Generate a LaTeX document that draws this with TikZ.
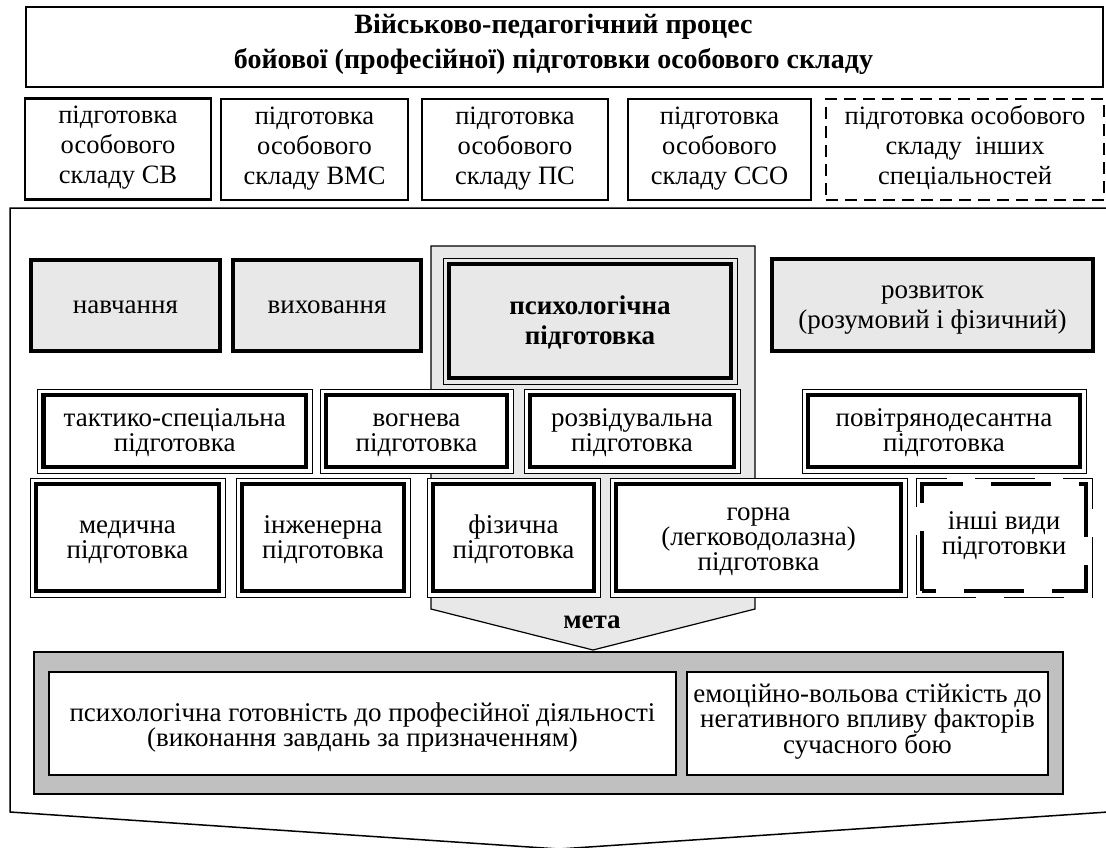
\documentclass[tikz,border=0pt]{standalone}
\usepackage{fontspec}
\setmainfont{Liberation Serif}
\definecolor{lg}{HTML}{E8E8E8}
\definecolor{mg}{HTML}{C0C0C0}
\newcommand\hA{\rule{0pt}{24pt}}\newcommand\dA{\rule[-8pt]{0pt}{8pt}}
\newcommand\hB{\rule{0pt}{20pt}}\newcommand\dB{\rule[-11pt]{0pt}{11pt}}
\newcommand\hC{\rule{0pt}{20pt}}\newcommand\dC{\rule[-12pt]{0pt}{12pt}}
\newcommand\hG{\rule{0pt}{29pt}}\newcommand\dG{\rule[-8pt]{0pt}{8pt}}
\tikzset{
  base/.style={inner sep=0pt, align=center, font=\fontsize{27}{25}\selectfont},
  titlebox/.style={base, draw, line width=1.8pt, font=\fontsize{28}{35}\selectfont\bfseries},
  toprow/.style={base, draw, line width=1.6pt, fill=white, font=\fontsize{26.5}{30}\selectfont},
  topdash/.style={toprow, dash pattern=on 12pt off 7pt},
  graybox/.style={base, draw, fill=lg, line width=3.5pt},
  dbl/.style={base, draw, line width=1pt, fill=white,
    path picture={\draw[line width=4.5pt]
      ([shift={(6pt,6pt)}]path picture bounding box.south west) rectangle
      ([shift={(-6pt,-6pt)}]path picture bounding box.north east);}},
  dbldash/.style={base, draw, line width=1pt, fill=white, dash pattern=on 60pt off 28pt,
    path picture={\draw[line width=4.5pt, dash pattern=on 60pt off 28pt]
      ([shift={(6pt,6pt)}]path picture bounding box.south west) rectangle
      ([shift={(-6pt,-6pt)}]path picture bounding box.north east);}},
  goalbox/.style={base, draw, line width=1.5pt, fill=white},
}
\begin{document}
\begin{tikzpicture}[x=1pt, y=-1pt]
\useasboundingbox (0,0) rectangle (1106,847);
% title
\node[titlebox, minimum width=1077pt, minimum height=80pt] (title) at (564.5,47)
  {\hC Військово-педагогічний процес\hspace*{22pt}\\бойової (професійної) підготовки особового складу\dC\hspace*{22pt}};
% top row
\node[toprow, line width=2.2pt, minimum width=186pt, minimum height=101pt] (t1) at (118,149)
  {\hB підготовка\\особового\\складу СВ\dB};
\node[toprow, minimum width=187pt, minimum height=101pt] (t2) at (314.5,149.5)
  {\hB підготовка\\особового\\складу ВМС\dB};
\node[toprow, minimum width=186pt, minimum height=101pt] (t3) at (515,149.5)
  {\hB підготовка\\особового\\складу ПС\dB};
\node[toprow, minimum width=183pt, minimum height=101pt] (t4) at (719.5,149.5)
  {\hB підготовка\\особового\\складу ССО\dB};
\node[topdash, minimum width=278pt, minimum height=101pt] (t5) at (965,149.5)
  {\hB підготовка особового\\складу \ інших\\спеціальностей\dB};
% outer frame (arrow shape)
\coordinate (f1) at (10,208);
\coordinate (f2) at (1108,208);
\coordinate (f3) at (1108,812);
\coordinate (f4) at (559,849);
\coordinate (f5) at (10,812);
\draw[line width=1.5pt, line join=miter] (f1) -- (f2) -- (f3) -- (f4) -- (f5) -- cycle;
% gray column (arrow)
\coordinate (c1) at (431,246);
\coordinate (c2) at (755,246);
\coordinate (c3) at (755,609);
\coordinate (c4) at (593,650);
\coordinate (c5) at (431,609);
\draw[fill=lg, line width=1.2pt] (c1) -- (c2) -- (c3) -- (c4) -- (c5) -- cycle;
% row A
\node[graybox, minimum width=189pt, minimum height=91pt] (nav) at (125.5,305.5) {\hA навчання\dA};
\node[graybox, minimum width=188pt, minimum height=91pt] (vyh) at (327,305.5) {\hA виховання\dA};
\node[dbl, fill=lg, minimum width=294pt, minimum height=126pt, font=\fontsize{27}{30}\selectfont\bfseries] (psy) at (590,321)
  {\hA психологічна\\підготовка\dA};
\node[graybox, minimum width=321pt, minimum height=92pt, font=\fontsize{27}{30}\selectfont] (roz) at (932.5,305)
  {\hA розвиток\\(розумовий і фізичний)\dA};
% row B
\node[dbl, minimum width=274.5pt, minimum height=84pt] (tak) at (174.75,431) {\hA тактико-спеціальна\\підготовка\dA};
\node[dbl, minimum width=193pt, minimum height=84pt] (vog) at (416.5,431) {\hA вогнева\\підготовка\dA};
\node[dbl, minimum width=216pt, minimum height=84pt] (rzv) at (632,431) {\hA розвідувальна\\підготовка\dA};
\node[dbl, minimum width=284pt, minimum height=84pt] (pov) at (944,431) {\hA повітрянодесантна\\підготовка\dA};
% row C
\node[dbl, minimum width=195pt, minimum height=119pt] (med) at (127.5,537.5) {\hA медична\\підготовка\dA};
\node[dbl, minimum width=174pt, minimum height=119pt] (inz) at (323,537.5) {\hA інженерна\\підготовка\dA};
\node[dbl, minimum width=173pt, minimum height=119pt] (fiz) at (513.5,537.5) {\hA фізична\\підготовка\dA};
\node[dbl, minimum width=297pt, minimum height=119pt] (gor) at (758.5,537.5) {\hA горна\\(легководолазна)\\підготовка\dA};
\node[dbldash, minimum width=176pt, minimum height=119pt] (ins) at (1004,537.5) {\hC інші види\\підготовки\dC};
% goal label
\node[base, font=\fontsize{27}{25}\selectfont\bfseries] (meta) at (592,620) {\hA мета\dA};
% bottom goals
\node[draw, fill=mg, line width=1.5pt, minimum width=1029pt, minimum height=142pt, inner sep=0pt] (goal) at (548.5,723) {};
\node[goalbox, minimum width=627pt, minimum height=103pt] (g1) at (362.5,723.5)
  {\hG психологічна готовність до професійної діяльності\\(виконання завдань за призначенням)\dG};
\node[goalbox, minimum width=361pt, minimum height=103pt] (g2) at (867.5,723.5)
  {\hB емоційно-вольова стійкість до\\негативного впливу факторів\\сучасного бою\dB};
\end{tikzpicture}
\end{document}
